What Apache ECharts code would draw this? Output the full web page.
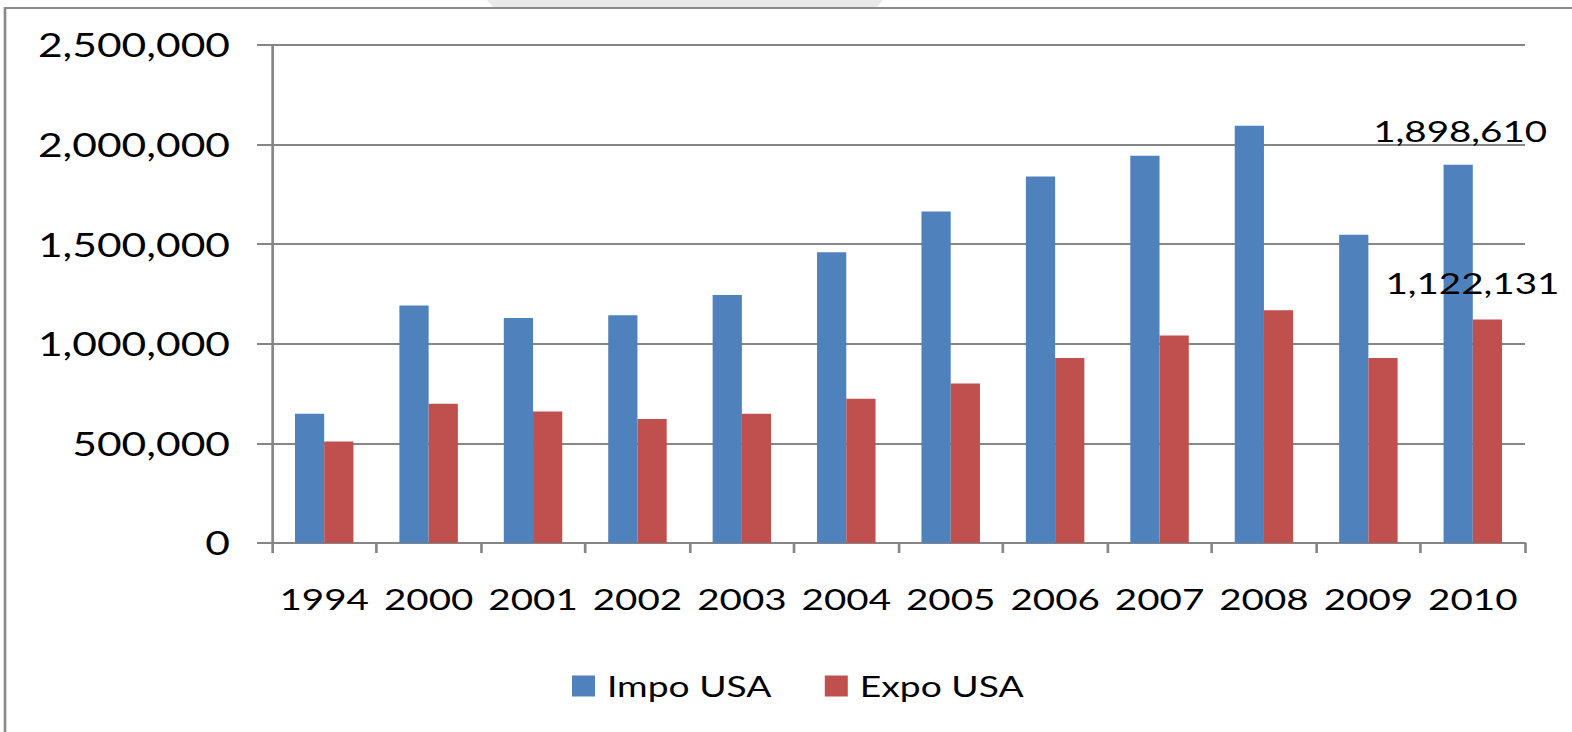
<!DOCTYPE html>
<html><head><meta charset="utf-8">
<script src="https://cdn.jsdelivr.net/npm/echarts@6/dist/echarts.min.js"></script>
<style>
html,body{margin:0;padding:0;background:#fff;overflow:hidden;}
#wrap{width:1572px;height:732px;overflow:hidden;position:relative;background:#fff;}
#chart{width:1182px;height:732px;transform:scaleX(1.33);transform-origin:0 0;}
</style></head><body><div id="wrap"><div id="chart"></div></div>
<script>
// Data
const categories = ['1994','2000','2001','2002','2003','2004','2005','2006','2007','2008','2009','2010'];
const impoUSA = [649000, 1192000, 1130000, 1143000, 1245000, 1460000, 1664000, 1840000, 1944000, 2095000, 1548000, 1898610];
const expoUSA = [509000, 699000, 660000, 622000, 649000, 724000, 801000, 929000, 1042000, 1168000, 929000, 1122131];
const yTicks = [0, 500000, 1000000, 1500000, 2000000, 2500000];
const seriesNames = ['Impo USA', 'Expo USA'];
const labelledIndex = 11;

const S = 1.33; // horizontal stretch of the whole picture
const X = v => v / S;
const FONT = 'Lato';
const fmt = v => Number(v).toLocaleString('en-US');

const chart = echarts.init(document.getElementById('chart'), null, {renderer: 'svg'});
chart.setOption({
  backgroundColor: '#fff',
  animation: false,
  textStyle: {fontFamily: FONT, color: '#000'},
  graphic: [
    {type: 'polygon', silent: true, z: 0,
     shape: {points: [[X(487),0],[X(883),0],[X(877),7],[X(493),7]]},
     style: {fill: '#e9e9e9'}},
    {type: 'polyline', silent: true, z: 1,
     shape: {points: [[X(5),732],[X(5),8],[X(1572),8]]},
     style: {stroke: '#8a8a8a', lineWidth: 2, fill: null}}
  ],
  grid: {left: X(272), right: 1182 - X(1525), top: 45, bottom: 189, containLabel: false},
  legend: {
    data: seriesNames,
    left: X(572), top: 672, padding: 0,
    icon: 'rect', itemWidth: X(23), itemHeight: 21, itemGap: 40,
    textStyle: {fontFamily: FONT, fontSize: 28, color: '#000', padding: [0,0,0,4]}
  },
  xAxis: {
    type: 'category', data: categories,
    axisLine: {lineStyle: {color: '#868686', width: 2}},
    axisTick: {show: true, length: 10, alignWithLabel: false, lineStyle: {color: '#868686', width: 2}},
    axisLabel: {fontFamily: FONT, fontSize: 29, color: '#000', margin: 41, interval: 0},
    splitLine: {show: false}
  },
  yAxis: {
    type: 'value', min: yTicks[0], max: yTicks[yTicks.length-1], interval: yTicks[1]-yTicks[0],
    axisLine: {show: true, lineStyle: {color: '#868686', width: 2}},
    axisTick: {show: true, length: X(15), lineStyle: {color: '#868686', width: 2}},
    axisLabel: {fontFamily: FONT, fontSize: 32, color: '#000', margin: X(42), formatter: fmt},
    splitLine: {show: true, lineStyle: {color: '#868686', width: 2}}
  },
  series: [
    {name: seriesNames[0], type: 'bar', data: impoUSA.map((v,i) => i === labelledIndex ? {value: v, label: {show: true}} : v),
     barGap: '0%', barCategoryGap: '44%',
     itemStyle: {color: '#4f81bd'},
     label: {show: false, position: 'top', distance: 20, offset: [X(2), 0], fontFamily: FONT, fontSize: 29, color: '#000', formatter: p => fmt(p.value)}},
    {name: seriesNames[1], type: 'bar', data: expoUSA.map((v,i) => i === labelledIndex ? {value: v, label: {show: true}} : v),
     barGap: '0%', barCategoryGap: '44%',
     itemStyle: {color: '#c0504d'},
     label: {show: false, position: 'top', distance: 22, offset: [X(-15), 0], fontFamily: FONT, fontSize: 29, color: '#000', formatter: p => fmt(p.value)}}
  ]
});
</script></body></html>
